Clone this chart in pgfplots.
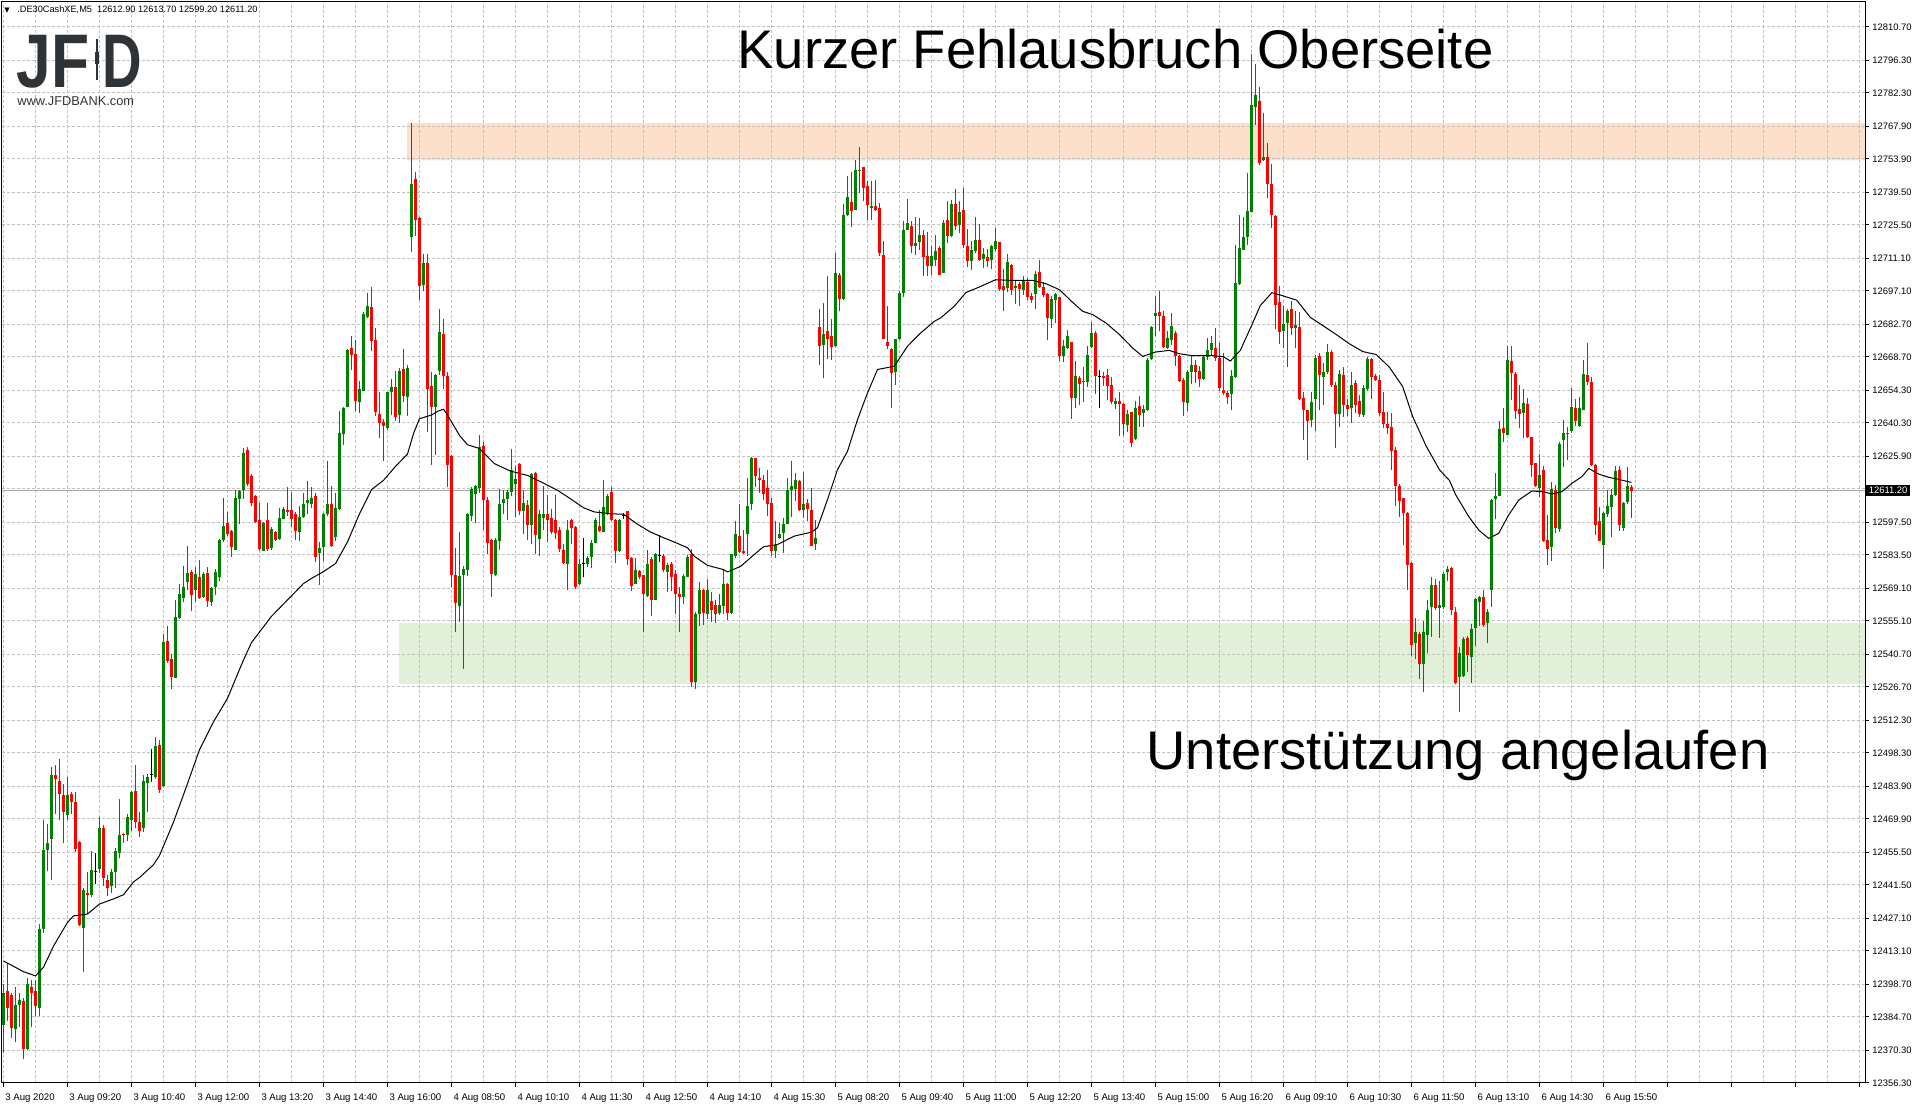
\documentclass[border=0pt]{standalone}
\usepackage{fontspec}
\setmainfont{Liberation Sans}
\newfontfamily\dejavu{DejaVu Sans}
\usepackage{pgfplots}
\usepackage{pgfplotstable}
\pgfplotsset{compat=1.18}
\definecolor{up}{RGB}{0,128,0}
\definecolor{down}{RGB}{255,0,0}
\definecolor{gridc}{RGB}{192,192,192}
\definecolor{zoneor}{RGB}{253,224,204}
\definecolor{zonegr}{RGB}{226,239,217}
\definecolor{logoc}{RGB}{46,51,56}
\definecolor{pline}{RGB}{170,170,170}

\pgfplotstableread{
i o h l c
0 12381.3 12398.7 12369.3 12395.1
1 12396.0 12407.9 12383.1 12388.6
2 12394.2 12395.0 12375.8 12380.0
3 12379.4 12397.8 12373.9 12389.9
4 12389.9 12395.1 12380.4 12391.8
5 12391.4 12393.0 12366.6 12370.8
6 12370.8 12401.5 12370.3 12398.7
7 12397.8 12400.6 12380.4 12395.1
8 12396.0 12400.6 12385.0 12389.5
9 12388.6 12424.5 12385.0 12422.6
10 12422.6 12469.5 12420.8 12456.6
11 12456.6 12467.6 12447.4 12459.4
12 12461.2 12492.4 12443.7 12488.7
13 12488.7 12493.3 12472.2 12486.9
14 12486.4 12495.5 12469.5 12480.5
15 12480.1 12485.1 12459.4 12473.1
16 12471.8 12487.8 12469.5 12480.1
17 12480.5 12481.5 12472.2 12477.2
18 12477.2 12481.4 12455.7 12457.0
19 12459.9 12460.5 12424.0 12424.1
20 12423.2 12440.0 12404.2 12439.5
21 12438.2 12446.9 12429.0 12437.0
22 12437.3 12456.0 12436.4 12448.0
23 12447.5 12455.3 12441.9 12447.5
24 12448.3 12470.7 12446.5 12466.1
25 12466.1 12467.1 12441.0 12444.7
26 12443.7 12445.6 12436.9 12440.1
27 12441.0 12448.3 12438.2 12447.2
28 12446.9 12457.5 12440.1 12456.0
29 12455.3 12478.3 12452.9 12463.0
30 12463.5 12463.9 12459.7 12462.8
31 12463.0 12472.2 12460.3 12470.7
32 12469.5 12481.8 12464.9 12481.4
33 12482.0 12493.0 12465.8 12468.5
34 12468.5 12473.1 12462.1 12464.9
35 12465.8 12488.7 12464.5 12486.4
36 12485.4 12489.1 12473.1 12487.8
37 12489.1 12500.1 12486.0 12489.1
38 12487.8 12505.3 12486.9 12501.3
39 12501.7 12504.0 12481.1 12482.3
40 12484.1 12549.4 12483.8 12546.2
41 12546.6 12553.0 12537.1 12538.0
42 12538.9 12540.7 12526.0 12531.0
43 12530.6 12564.1 12530.5 12556.7
44 12556.3 12570.9 12555.8 12566.8
45 12565.0 12578.8 12563.1 12569.6
46 12572.0 12587.4 12568.3 12575.6
47 12576.2 12576.9 12559.5 12566.3
48 12568.3 12578.4 12563.1 12575.1
49 12574.2 12581.5 12564.6 12565.0
50 12565.5 12576.0 12565.0 12575.1
51 12575.6 12578.4 12561.3 12563.5
52 12563.1 12569.6 12561.7 12569.2
53 12569.6 12577.3 12566.4 12576.0
54 12574.2 12590.3 12572.3 12589.8
55 12589.8 12607.8 12589.2 12595.8
56 12597.1 12602.1 12591.6 12592.5
57 12593.8 12594.4 12582.8 12586.7
58 12585.7 12611.3 12585.6 12608.1
59 12607.6 12611.4 12596.8 12610.9
60 12611.3 12629.3 12607.6 12627.4
61 12628.5 12630.1 12613.2 12614.0
62 12617.6 12618.4 12604.4 12606.0
63 12608.7 12609.3 12597.4 12597.5
64 12598.5 12606.0 12585.1 12585.9
65 12585.4 12597.6 12585.0 12597.2
66 12598.5 12606.0 12585.1 12585.9
67 12586.3 12595.6 12585.6 12594.8
68 12593.5 12594.0 12589.4 12589.9
69 12590.4 12603.9 12589.9 12599.6
70 12599.1 12604.0 12598.8 12603.1
71 12602.8 12612.9 12600.4 12602.0
72 12602.8 12610.5 12595.6 12599.1
73 12600.9 12602.0 12589.9 12594.0
74 12593.5 12604.4 12589.5 12599.9
75 12599.9 12610.1 12599.6 12605.5
76 12606.0 12615.2 12601.2 12607.1
77 12605.5 12612.9 12603.9 12608.1
78 12608.7 12610.1 12580.3 12582.7
79 12584.3 12589.1 12570.7 12586.3
80 12586.7 12601.7 12581.1 12601.2
81 12601.2 12623.7 12600.4 12605.5
82 12605.5 12613.2 12586.8 12587.2
83 12591.2 12610.1 12589.5 12603.9
84 12603.3 12645.4 12602.8 12636.0
85 12635.7 12647.3 12630.9 12646.9
86 12647.3 12672.3 12647.0 12671.8
87 12672.6 12677.5 12663.0 12669.5
88 12669.9 12675.9 12645.4 12649.9
89 12649.4 12658.2 12644.6 12654.7
90 12654.2 12688.0 12653.9 12687.1
91 12686.0 12696.4 12685.5 12690.8
92 12690.3 12698.7 12671.1 12675.6
93 12675.9 12681.2 12643.3 12644.9
94 12644.1 12653.4 12633.8 12640.1
95 12640.5 12642.1 12624.0 12638.9
96 12638.1 12653.6 12637.3 12653.4
97 12653.4 12659.0 12643.8 12655.8
98 12655.8 12662.7 12641.3 12643.0
99 12643.8 12663.8 12640.2 12662.6
100 12663.3 12672.3 12649.4 12651.8
101 12651.5 12665.4 12643.3 12663.8
102 12720.1 12769.3 12713.9 12743.3
103 12745.2 12748.1 12720.8 12727.7
104 12728.4 12728.9 12693.2 12699.2
105 12699.6 12713.1 12697.1 12709.3
106 12709.3 12713.1 12636.5 12655.0
107 12656.3 12662.2 12622.1 12647.3
108 12647.3 12661.4 12626.4 12660.9
109 12662.7 12689.1 12661.1 12679.6
110 12678.6 12685.0 12655.0 12660.6
111 12660.6 12662.2 12612.9 12622.1
112 12626.1 12626.3 12569.9 12574.7
113 12574.7 12586.3 12550.3 12562.7
114 12561.5 12593.2 12554.6 12574.4
115 12574.7 12578.7 12534.5 12577.6
116 12577.1 12601.5 12574.4 12601.2
117 12600.4 12612.9 12598.0 12612.0
118 12609.7 12613.5 12597.2 12613.2
119 12612.4 12634.9 12610.1 12630.0
120 12630.5 12632.0 12594.1 12607.0
121 12607.0 12608.4 12583.8 12588.6
122 12589.8 12590.5 12565.4 12575.1
123 12574.7 12590.9 12574.5 12590.1
124 12589.5 12612.0 12585.5 12605.6
125 12605.8 12611.3 12601.3 12607.7
126 12607.4 12611.6 12598.4 12610.6
127 12610.6 12628.9 12608.7 12620.2
128 12613.9 12621.6 12599.8 12616.3
129 12622.8 12623.2 12600.5 12602.3
130 12602.4 12611.3 12592.6 12605.8
131 12604.8 12607.0 12590.1 12596.2
132 12596.2 12618.7 12588.3 12618.5
133 12618.7 12619.0 12584.0 12591.9
134 12590.5 12602.7 12582.9 12601.0
135 12599.5 12613.0 12594.1 12601.3
136 12601.3 12609.1 12589.1 12598.7
137 12599.5 12603.4 12592.6 12593.4
138 12598.4 12609.1 12590.5 12592.9
139 12594.1 12595.5 12584.8 12585.9
140 12585.5 12588.3 12579.7 12580.0
141 12579.4 12598.4 12568.3 12594.1
142 12598.7 12599.1 12588.3 12595.2
143 12595.5 12595.8 12569.0 12569.7
144 12571.1 12581.9 12570.4 12579.7
145 12579.7 12590.9 12574.0 12579.7
146 12579.7 12582.9 12578.3 12582.3
147 12582.6 12589.8 12578.0 12588.8
148 12588.8 12599.5 12588.6 12598.4
149 12595.8 12602.7 12593.4 12593.8
150 12593.4 12615.9 12593.2 12604.1
151 12601.0 12609.9 12600.5 12608.7
152 12610.6 12612.7 12598.1 12598.4
153 12598.4 12598.8 12580.0 12585.2
154 12585.2 12599.1 12584.8 12598.7
155 12600.6 12601.5 12599.1 12600.6
156 12602.3 12602.5 12579.0 12581.9
157 12582.3 12582.6 12568.0 12570.0
158 12570.9 12582.3 12570.8 12576.9
159 12576.6 12577.0 12573.3 12574.0
160 12574.7 12574.9 12550.3 12566.5
161 12565.7 12585.5 12565.5 12579.7
162 12581.9 12582.6 12557.1 12564.0
163 12564.3 12584.2 12564.0 12584.0
164 12583.3 12591.9 12580.5 12583.3
165 12582.9 12584.0 12576.2 12576.9
166 12576.2 12580.0 12567.5 12579.2
167 12579.7 12580.5 12568.0 12574.0
168 12575.1 12576.9 12558.2 12566.5
169 12566.5 12569.7 12550.3 12565.4
170 12565.4 12575.4 12562.5 12574.3
171 12574.0 12583.3 12573.8 12582.6
172 12583.8 12586.2 12526.7 12528.8
173 12528.8 12558.9 12526.0 12557.9
174 12557.9 12571.9 12552.8 12568.3
175 12568.3 12569.0 12553.2 12558.5
176 12558.2 12573.3 12556.1 12568.6
177 12563.7 12567.5 12554.6 12559.7
178 12561.8 12564.0 12554.2 12557.9
179 12558.5 12566.8 12557.5 12561.8
180 12561.4 12577.2 12557.9 12571.2
181 12571.2 12571.5 12555.7 12558.6
182 12558.6 12584.0 12558.0 12583.7
183 12582.9 12598.0 12582.2 12592.3
184 12591.8 12605.2 12584.4 12584.7
185 12585.4 12594.4 12583.7 12584.4
186 12592.7 12616.6 12582.9 12604.7
187 12605.2 12625.7 12603.0 12625.0
188 12625.0 12625.3 12612.8 12617.4
189 12616.4 12620.7 12610.2 12615.7
190 12615.9 12617.7 12607.3 12609.9
191 12612.3 12620.2 12600.2 12605.2
192 12605.9 12608.0 12582.9 12585.1
193 12585.1 12598.3 12582.2 12587.7
194 12590.8 12597.3 12590.4 12592.7
195 12593.0 12599.2 12584.4 12597.0
196 12597.0 12616.6 12596.9 12611.6
197 12611.3 12623.8 12599.9 12613.3
198 12611.9 12618.8 12606.6 12615.6
199 12615.2 12615.9 12602.3 12602.7
200 12602.7 12619.1 12599.4 12605.2
201 12605.9 12607.6 12598.0 12603.3
202 12603.0 12612.3 12587.2 12587.5
203 12588.4 12598.7 12585.8 12590.8
204 12681.6 12689.1 12665.4 12673.3
205 12674.0 12691.9 12659.7 12678.7
206 12679.7 12703.4 12667.6 12676.2
207 12677.9 12684.8 12667.3 12673.0
208 12673.6 12713.4 12673.0 12704.6
209 12704.1 12704.8 12688.3 12693.7
210 12693.4 12734.7 12693.0 12729.9
211 12729.6 12746.7 12729.4 12737.4
212 12735.2 12748.3 12724.5 12731.4
213 12732.1 12753.6 12731.9 12749.3
214 12748.6 12759.0 12739.3 12749.3
215 12750.4 12750.6 12735.7 12741.4
216 12742.4 12744.3 12727.5 12734.2
217 12732.9 12744.3 12727.5 12733.8
218 12733.5 12745.0 12731.4 12731.8
219 12732.8 12735.0 12712.0 12713.2
220 12712.7 12718.5 12676.2 12676.4
221 12675.0 12690.8 12671.9 12673.3
222 12672.3 12672.5 12646.8 12661.8
223 12662.1 12676.4 12656.4 12676.2
224 12676.4 12696.9 12675.9 12696.2
225 12696.2 12727.1 12694.5 12723.5
226 12723.5 12736.7 12723.2 12726.1
227 12725.2 12727.1 12713.2 12716.3
228 12716.3 12728.9 12712.7 12717.7
229 12718.0 12728.5 12714.9 12721.3
230 12721.3 12723.5 12703.4 12711.7
231 12712.0 12722.3 12703.4 12707.7
232 12708.0 12716.6 12704.1 12712.0
233 12710.6 12721.3 12707.7 12714.2
234 12715.6 12716.3 12704.0 12704.1
235 12704.8 12727.8 12704.6 12726.4
236 12727.5 12735.7 12717.5 12720.9
237 12720.9 12736.0 12720.3 12734.7
238 12734.7 12741.0 12723.5 12724.9
239 12725.6 12735.7 12722.0 12730.9
240 12731.8 12741.4 12715.6 12717.0
241 12716.6 12723.7 12707.4 12710.1
242 12709.8 12718.4 12706.0 12714.8
243 12714.1 12728.9 12713.4 12719.1
244 12719.1 12726.0 12709.8 12710.5
245 12710.8 12715.6 12707.0 12713.1
246 12711.7 12715.1 12707.4 12709.8
247 12710.3 12717.0 12706.5 12716.3
248 12715.1 12724.2 12714.1 12718.7
249 12718.0 12718.2 12696.9 12697.9
250 12699.4 12706.5 12688.3 12697.3
251 12698.3 12713.1 12696.5 12709.6
252 12708.4 12708.6 12695.5 12697.6
253 12698.3 12701.9 12691.6 12699.4
254 12700.2 12700.8 12690.7 12697.9
255 12697.6 12703.6 12695.5 12701.6
256 12700.9 12702.6 12693.0 12694.5
257 12694.8 12696.2 12691.9 12693.0
258 12695.9 12705.5 12689.3 12704.5
259 12705.1 12710.5 12698.3 12698.8
260 12698.8 12700.8 12694.5 12695.5
261 12695.9 12696.2 12675.8 12685.4
262 12685.0 12694.8 12681.1 12693.6
263 12693.0 12696.2 12683.3 12695.8
264 12694.3 12694.5 12666.8 12669.2
265 12668.9 12675.8 12666.4 12673.3
266 12672.5 12680.4 12672.1 12677.8
267 12675.1 12675.3 12642.0 12651.0
268 12651.0 12666.8 12646.7 12660.3
269 12659.8 12660.3 12648.2 12657.2
270 12658.2 12664.4 12649.2 12657.9
271 12657.8 12673.3 12655.8 12669.7
272 12673.0 12683.6 12672.5 12679.0
273 12679.0 12679.7 12652.7 12660.3
274 12660.1 12663.2 12646.7 12660.1
275 12660.6 12662.1 12656.3 12659.6
276 12660.9 12663.5 12650.3 12656.0
277 12656.7 12660.1 12648.6 12649.2
278 12648.4 12651.0 12646.3 12649.6
279 12649.9 12653.6 12634.8 12648.4
280 12648.6 12648.8 12634.5 12639.8
281 12639.6 12645.7 12636.2 12644.3
282 12645.0 12645.2 12629.9 12631.7
283 12633.4 12649.6 12633.1 12646.7
284 12647.7 12651.7 12638.6 12643.9
285 12644.6 12648.0 12638.6 12646.3
286 12646.0 12668.2 12645.3 12667.2
287 12667.8 12681.9 12667.5 12681.6
288 12686.2 12694.8 12677.8 12687.6
289 12688.0 12697.2 12679.7 12686.2
290 12686.4 12688.3 12672.5 12673.0
291 12672.5 12679.7 12672.1 12676.8
292 12675.8 12687.6 12673.7 12682.1
293 12679.0 12679.7 12664.9 12669.2
294 12669.2 12669.7 12658.0 12658.2
295 12658.9 12659.6 12643.4 12649.2
296 12648.9 12663.2 12645.3 12662.1
297 12662.1 12668.9 12657.2 12665.4
298 12665.4 12667.5 12657.5 12662.1
299 12662.8 12664.6 12655.8 12659.2
300 12659.2 12668.9 12658.9 12668.7
301 12668.7 12676.8 12667.5 12671.8
302 12671.5 12677.6 12669.7 12674.6
303 12672.4 12681.3 12666.9 12668.4
304 12668.4 12674.6 12654.1 12655.5
305 12654.4 12670.2 12652.2 12653.1
306 12653.1 12654.1 12648.6 12651.3
307 12652.6 12662.9 12645.8 12660.5
308 12659.9 12716.9 12659.7 12700.4
309 12700.0 12729.8 12699.8 12715.6
310 12714.7 12729.0 12714.5 12720.2
311 12720.2 12747.8 12716.9 12731.6
312 12731.2 12799.2 12731.0 12777.2
313 12776.2 12794.6 12768.3 12781.2
314 12779.0 12784.9 12751.4 12752.3
315 12753.3 12773.8 12753.0 12754.6
316 12754.6 12760.6 12737.1 12743.2
317 12743.2 12751.8 12724.2 12729.8
318 12729.4 12729.6 12680.7 12691.2
319 12692.3 12699.1 12674.3 12679.4
320 12679.8 12690.8 12672.4 12682.9
321 12683.5 12689.3 12664.2 12688.6
322 12689.5 12692.6 12678.0 12681.3
323 12681.3 12688.6 12672.4 12682.5
324 12681.6 12688.1 12650.2 12650.4
325 12651.1 12653.7 12632.9 12645.8
326 12645.8 12646.0 12624.3 12641.2
327 12641.6 12653.5 12638.5 12649.5
328 12650.4 12669.7 12637.0 12668.4
329 12669.3 12670.2 12645.8 12661.0
330 12659.9 12666.0 12648.2 12662.3
331 12662.3 12674.3 12661.4 12670.9
332 12670.9 12671.5 12655.9 12656.8
333 12656.8 12657.7 12629.6 12644.0
334 12644.0 12662.9 12638.5 12661.4
335 12660.9 12664.2 12643.0 12648.2
336 12648.2 12650.4 12643.4 12646.4
337 12646.7 12662.3 12640.3 12656.8
338 12657.4 12658.7 12644.5 12648.2
339 12649.7 12652.2 12643.0 12644.0
340 12643.6 12656.8 12642.7 12655.5
341 12655.0 12668.8 12654.1 12667.9
342 12667.9 12668.4 12650.8 12659.9
343 12660.5 12661.4 12658.5 12658.7
344 12658.7 12661.1 12643.4 12644.5
345 12644.9 12653.5 12637.9 12639.8
346 12639.8 12644.9 12635.7 12637.9
347 12638.5 12644.5 12620.1 12628.4
348 12628.7 12629.8 12604.5 12613.3
349 12613.3 12614.0 12599.9 12606.7
350 12607.8 12608.2 12587.9 12601.7
351 12601.7 12602.0 12568.6 12579.1
352 12580.0 12580.6 12540.2 12544.8
353 12545.7 12556.2 12538.7 12550.3
354 12549.4 12550.3 12530.1 12536.5
355 12536.5 12554.9 12524.6 12550.3
356 12549.0 12564.1 12541.1 12560.0
357 12561.3 12574.2 12548.4 12570.5
358 12570.5 12573.2 12560.0 12560.8
359 12560.8 12572.3 12547.9 12561.9
360 12561.3 12576.0 12560.4 12575.1
361 12576.0 12578.8 12572.3 12577.3
362 12577.8 12578.4 12557.6 12560.0
363 12559.1 12561.2 12528.0 12528.3
364 12531.1 12544.0 12516.1 12541.5
365 12531.4 12548.0 12531.1 12547.2
366 12547.6 12548.6 12533.3 12540.4
367 12539.7 12553.8 12528.3 12551.5
368 12551.9 12564.8 12544.3 12564.4
369 12563.4 12565.8 12552.9 12565.5
370 12565.2 12568.4 12552.6 12553.4
371 12554.4 12560.1 12545.5 12559.1
372 12568.4 12607.4 12561.2 12607.1
373 12607.6 12618.6 12599.0 12608.9
374 12608.9 12641.2 12608.7 12637.5
375 12638.0 12646.6 12632.2 12636.1
376 12635.1 12673.4 12635.0 12667.4
377 12667.0 12673.4 12650.2 12661.9
378 12661.3 12662.3 12641.8 12645.6
379 12646.1 12656.6 12638.0 12644.1
380 12644.7 12654.7 12633.7 12648.7
381 12648.4 12650.9 12633.7 12634.1
382 12634.1 12634.4 12616.9 12622.2
383 12622.9 12623.2 12612.9 12613.2
384 12612.2 12626.9 12608.6 12617.9
385 12620.0 12621.8 12589.2 12589.6
386 12589.9 12600.7 12579.2 12585.9
387 12586.8 12615.0 12581.0 12611.7
388 12611.4 12613.6 12593.1 12595.0
389 12594.5 12632.2 12593.5 12631.2
390 12632.9 12641.5 12621.5 12635.8
391 12635.5 12638.4 12624.3 12636.1
392 12637.0 12655.2 12635.8 12647.0
393 12646.6 12650.4 12639.0 12641.2
394 12639.0 12651.3 12638.4 12646.6
395 12645.8 12667.4 12645.7 12661.3
396 12660.9 12674.8 12656.6 12658.0
397 12658.0 12660.2 12621.8 12622.2
398 12622.2 12622.6 12592.1 12596.4
399 12598.2 12604.0 12589.5 12589.6
400 12587.8 12602.1 12577.3 12601.7
401 12601.1 12611.4 12599.9 12604.5
402 12604.0 12611.7 12591.4 12609.3
403 12609.3 12621.8 12608.9 12619.7
404 12620.0 12621.8 12593.9 12596.4
405 12595.0 12606.4 12593.9 12606.0
406 12606.4 12621.5 12605.4 12613.2
407 12612.9 12613.7 12599.2 12611.2
}\candles

\begin{document}
\begin{tikzpicture}
\path (-1pt,-12pt) rectangle (957.5pt,541.5pt);
\begin{axis}[
  set layers,
  scale only axis, width=931.5pt, height=540.5pt,
  xmin=-0.375, xmax=465.375, ymin=12356.3, ymax=12821.4,
  scaled y ticks=false, scaled x ticks=false,
  axis line style={black, line width=0.5pt},
  tick style={black, line width=0.5pt},
  tick align=outside, major tick length=2pt, minor tick length=0pt,
  xtick pos=left, ytick pos=right, yticklabel pos=right,
  xtick={0,16,...,464},
  minor xtick={8,24,...,456},
  xticklabels={3 Aug 2020,3 Aug 09:20,3 Aug 10:40,3 Aug 12:00,3 Aug 13:20,3 Aug 14:40,3 Aug 16:00,4 Aug 08:50,4 Aug 10:10,4 Aug 11:30,4 Aug 12:50,4 Aug 14:10,4 Aug 15:30,5 Aug 08:20,5 Aug 09:40,5 Aug 11:00,5 Aug 12:20,5 Aug 13:40,5 Aug 15:00,5 Aug 16:20,6 Aug 09:10,6 Aug 10:30,6 Aug 11:50,6 Aug 13:10,6 Aug 14:30,6 Aug 15:50,,,,},
  ytick={12356.3,12370.3,12384.7,12398.7,12413.1,12427.1,12441.5,12455.5,12469.9,12483.9,12498.3,12512.3,12526.7,12540.7,12555.1,12569.1,12583.5,12597.5,12611.9,12625.9,12640.3,12654.3,12668.7,12682.7,12697.1,12711.1,12725.5,12739.5,12753.9,12767.9,12782.3,12796.3,12810.7},
  yticklabels={12356.30,12370.30,12384.70,12398.70,12413.10,12427.10,12441.50,12455.50,12469.90,12483.90,12498.30,12512.30,12526.70,12540.70,12555.10,12569.10,12583.50,12597.50,,12625.90,12640.30,12654.30,12668.70,12682.70,12697.10,12711.10,12725.50,12739.50,12753.90,12767.90,12782.30,12796.30,12810.70},
  xticklabel style={font=\fontsize{4.8}{5}\selectfont, anchor=north west, inner sep=0pt, xshift=0.8pt, yshift=-3pt},
  yticklabel style={font=\fontsize{4.7}{5}\selectfont, anchor=west, inner sep=0pt, xshift=1.5pt},
  xmajorgrids, xminorgrids, ymajorgrids,
  grid style={gridc, dash pattern=on 1.5pt off 1pt, line width=0.5pt},
  minor grid style={gridc, dash pattern=on 1.5pt off 1pt, line width=0.5pt},
]
% zones
\addplot[on layer=axis background, fill=zoneor, draw=none, forget plot]
  coordinates {(100.9,12753.3) (465.375,12753.3) (465.375,12769.4) (100.9,12769.4) (100.9,12753.3)};
\addplot[on layer=axis background, fill=zonegr, draw=none, forget plot]
  coordinates {(98.9,12528.0) (465.375,12528.0) (465.375,12554.2) (98.9,12554.2) (98.9,12528.0)};
% price line
\addplot[pline, line width=0.5pt, mark=none, forget plot]
  coordinates {(-0.375,12611.2) (465.375,12611.2)};
% wicks up
\addplot[draw=none, mark=none, forget plot,
  restrict expr to domain={\thisrow{c}-\thisrow{o}}{0.001:1000},
  error bars/.cd, y dir=plus, y explicit, error mark=none,
  error bar style={draw=up, line width=0.5pt}]
  table[x=i, y=l, y error plus expr={\thisrow{h}-\thisrow{l}}] {\candles};
% wicks down
\addplot[draw=none, mark=none, forget plot,
  restrict expr to domain={\thisrow{o}-\thisrow{c}}{0.001:1000},
  error bars/.cd, y dir=plus, y explicit, error mark=none,
  error bar style={draw=down, line width=0.5pt}]
  table[x=i, y=l, y error plus expr={\thisrow{h}-\thisrow{l}}] {\candles};
% wicks doji
\addplot[draw=none, mark=none, forget plot,
  restrict expr to domain={\thisrow{o}-\thisrow{c}}{-0.001:0.001},
  error bars/.cd, y dir=plus, y explicit, error mark=none,
  error bar style={draw=black, line width=0.5pt}]
  table[x=i, y=l, y error plus expr={\thisrow{h}-\thisrow{l}}] {\candles};
% bodies up
\addplot[draw=none, mark=none, forget plot,
  restrict expr to domain={\thisrow{c}-\thisrow{o}}{0.001:1000},
  error bars/.cd, y dir=plus, y explicit, error mark=none,
  error bar style={draw=up, line width=1.5pt}]
  table[x=i, y=o, y error plus expr={\thisrow{c}-\thisrow{o}}] {\candles};
% bodies down
\addplot[draw=none, mark=none, forget plot,
  restrict expr to domain={\thisrow{o}-\thisrow{c}}{0.001:1000},
  error bars/.cd, y dir=plus, y explicit, error mark=none,
  error bar style={draw=down, line width=1.5pt}]
  table[x=i, y=c, y error plus expr={\thisrow{o}-\thisrow{c}}] {\candles};
% doji bodies
\addplot[only marks, mark=-, mark size=0.75pt, black, mark options={line width=0.5pt}, forget plot,
  restrict expr to domain={\thisrow{o}-\thisrow{c}}{-0.001:0.001}]
  table[x=i, y=o] {\candles};
% moving average
\addplot[black, line width=0.5pt, mark=none, forget plot] coordinates {
(0,12408.8) (5,12404.2) (8,12402.4) (10,12406.1) (12.5,12415.2) (16,12425.4) (17.5,12428.2) (21,12429.0) (24,12433.3) (27.5,12435.5) (30,12437.3) (32.5,12442.8) (34,12444.7) (37.5,12450.2) (39,12454.2) (42.5,12468.5) (46,12485.1) (49,12499.7) (52.5,12511.7) (56,12521.8) (58,12530.1) (60,12538.3)
(62,12545.8) (67,12557.1) (72,12565.9) (75,12571.2) (77,12573.4) (80,12576.3) (83,12579.8) (86,12589.1) (89,12601.2) (92,12611.6) (95,12615.6) (98,12621.6) (101,12626.9) (102.5,12635.7) (104,12642.1) (107,12643.7) (108.7,12645.4) (110,12646.2) (111,12643.7) (114,12634.9) (116,12630.9) (119,12629.3)
(120,12627.5) (122.7,12622.8) (126.7,12619.6) (131,12617.7) (135,12614.4) (138.5,12611.3) (141.7,12607.7) (145,12603.8) (147.7,12602.0) (151.7,12601.2) (155,12601.0) (158.5,12596.7) (161.7,12593.4) (165,12590.9) (168.3,12588.6) (171,12586.6) (172.7,12582.9) (176,12579.0) (180,12577.2)
(181,12576.2) (184.3,12578.6) (187.7,12583.7) (190,12587.0) (193.5,12588.0) (197.7,12591.6) (202,12593.3) (203.5,12595.2) (206,12607.3) (208.5,12620.2) (211,12628.1) (213.5,12641.7) (216,12653.2) (218.5,12663.3) (221,12664.1) (222.7,12664.7) (226,12673.3) (229.3,12679.0) (232.7,12684.0) (234.3,12685.5) (237.7,12690.5) (240.6,12696.4)
(244,12698.8) (248,12701.9) (252.3,12701.6) (257.3,12701.6) (260.6,12700.2) (264,12697.6) (267,12692.6) (269.8,12688.3) (272.3,12686.9) (275.6,12683.3) (279,12678.3) (282.3,12672.5) (284.8,12668.9) (288,12670.8) (291.4,12671.5) (293.9,12670.1) (297.3,12669.2) (301.8,12669.3)
(305,12668.8) (306.7,12666.9) (309.2,12671.5) (312.1,12682.5) (314.2,12690.8) (317.1,12696.3) (320,12694.9) (323.3,12693.1) (326.7,12685.7) (330,12682.0) (333.2,12678.3) (336.5,12674.3) (339.8,12671.0) (343.2,12669.7) (346.5,12664.2) (349.8,12655.9) (352.3,12643.0) (355.7,12630.2) (359,12620.1) (361.5,12615.5) (363,12609.5)
(366.3,12600.0) (368.8,12594.2) (371.3,12590.6) (373.8,12592.8) (376.3,12600.7) (378.8,12607.1) (382.1,12611.0) (385,12610.7) (387.1,12609.7) (389.6,12610.7) (392.1,12614.3) (394.6,12617.2) (396.3,12620.7) (398.8,12618.3) (401.3,12616.9) (403.8,12616.0) (405.5,12615.3) (407,12614.7)
};
\end{axis}
% price label
\node[fill=black, text=white, anchor=west, inner xsep=1.2pt, inner ysep=0.9pt, font=\fontsize{4.7}{5}\selectfont] at (932pt,296.2pt) {12611.20};
% header
\node[anchor=base west, inner sep=0pt, font=\dejavu\fontsize{3.5}{4}\selectfont] at (1pt,535.3pt) {▼};
\node[anchor=base west, inner sep=0pt, font=\fontsize{4.6}{5}\selectfont] at (7.5pt,535.3pt) {.DE30CashXE,M5\ \ 12612.90 12613.70 12599.20 12611.20};
% logo
\node[anchor=base west, inner sep=0pt, text=logoc, font=\bfseries\fontsize{38}{38}\selectfont] at (7pt,497.5pt) {\scalebox{0.82}[1]{JF}};
\node[anchor=base west, inner sep=0pt, text=logoc, font=\bfseries\fontsize{38}{38}\selectfont] at (50pt,497.5pt) {\scalebox{0.72}[1]{D}};
\draw[logoc, line width=0.6pt] (47.5pt,501.5pt) -- (47.5pt,522pt);
\fill[logoc] (46.6pt,509.5pt) rectangle (48.4pt,515.5pt);
\node[anchor=base west, inner sep=0pt, text=logoc, font=\fontsize{6.4}{6.4}\selectfont] at (7.5pt,488.8pt) {www.JFDBANK.com};
% annotations
\node[anchor=base, inner sep=0pt, font=\fontsize{27.2}{30}\selectfont] at (556.75pt,507.25pt) {Kurzer Fehlausbruch Oberseite};
\node[anchor=base, inner sep=0pt, font=\fontsize{27.2}{30}\selectfont] at (728pt,156.5pt) {Unterstützung angelaufen};
\end{tikzpicture}
\end{document}
